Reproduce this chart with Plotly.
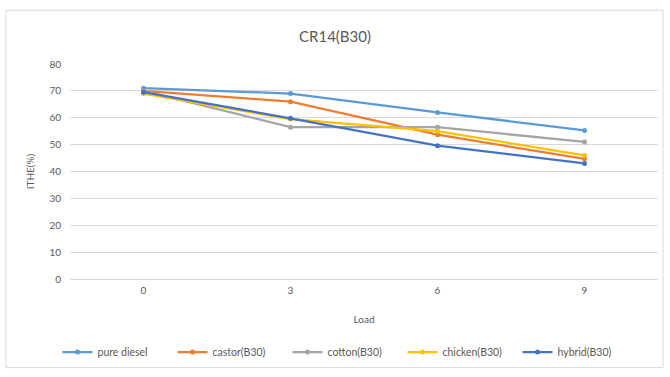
import plotly.graph_objects as go

loads = [0, 3, 6, 9]
pure_diesel = [71.0, 69.0, 62.0, 55.3]
castor_b30 = [70.0, 66.0, 53.7, 44.7]
cotton_b30 = [70.0, 56.5, 56.5, 51.0]
chicken_b30 = [69.0, 59.5, 55.0, 46.0]
hybrid_b30 = [69.5, 59.8, 49.6, 43.0]

series = [
    ("pure diesel", pure_diesel, "#5B9BD5"),
    ("castor(B30)", castor_b30, "#ED7D31"),
    ("cotton(B30)", cotton_b30, "#A5A5A5"),
    ("chicken(B30)", chicken_b30, "#FFC000"),
    ("hybrid(B30)", hybrid_b30, "#4472C4"),
]

fig = go.Figure()
for name, vals, col in series:
    fig.add_trace(go.Scatter(
        x=loads, y=vals, name=name, mode="lines+markers",
        line=dict(color=col, width=2.25),
        marker=dict(color=col, size=5, symbol="circle"),
    ))

W, H = 670, 377
L, R, T, B = 70, 658, 64, 280
pw, ph = R - L, B - T

def px(x):
    return (x - L) / pw

def py(y):
    return (B - y) / ph

fig.update_layout(
    width=W, height=H,
    margin=dict(l=L, r=W - R, t=T, b=H - B),
    paper_bgcolor="white", plot_bgcolor="white",
    font=dict(family="Lato, Open Sans, sans-serif", color="#595959", size=10),
    title=dict(text="CR14(B30)", x=0.5, xanchor="center", y=1 - 37 / H, yanchor="middle",
               font=dict(size=15, color="#595959")),
    xaxis=dict(range=[-1.5, 10.5], tickvals=loads, ticktext=[str(v) for v in loads],
               showgrid=False, zeroline=False, showline=False, ticks="",
               ticklabelstandoff=4,
               title=dict(text="Load", font=dict(size=10, color="#595959"), standoff=20)),
    yaxis=dict(range=[0, 80], dtick=10, showgrid=True, gridcolor="#D9D9D9", gridwidth=1,
               zeroline=True, zerolinecolor="#D9D9D9", zerolinewidth=1, showline=False, ticks="",
               ticklabelstandoff=8,
               title=dict(text="ITHE(%)", font=dict(size=10, color="#595959"), standoff=12)),
    legend=dict(orientation="h", x=px(345), xanchor="center", y=py(352), yanchor="middle",
                font=dict(size=10.5, color="#595959"), itemwidth=30, traceorder="normal",
                entrywidth=70, entrywidthmode="pixels"),
    showlegend=True,
    shapes=[dict(type="rect", xref="paper", yref="paper",
                 x0=px(6), x1=px(663), y0=py(369), y1=py(10),
                 line=dict(color="#D9D9D9", width=1), fillcolor="rgba(0,0,0,0)", layer="below")],
)

fig.write_html("out.html")
